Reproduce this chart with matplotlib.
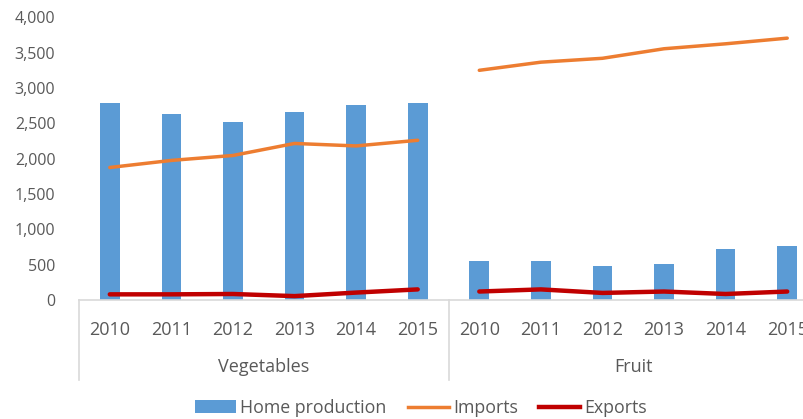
import matplotlib.pyplot as plt
from matplotlib.lines import Line2D
from matplotlib.patches import Patch

years = ['2010', '2011', '2012', '2013', '2014', '2015']
groups = ['Vegetables', 'Fruit']

home_veg = [2790, 2635, 2520, 2655, 2760, 2790]
home_fruit = [550, 550, 485, 505, 725, 770]
imports_veg = [1875, 1975, 2045, 2215, 2180, 2260]
imports_fruit = [3250, 3365, 3420, 3555, 3625, 3705]
exports_veg = [80, 80, 85, 55, 105, 150]
exports_fruit = [120, 150, 100, 120, 85, 120]

BLUE = '#5B9BD5'
ORANGE = '#ED7D31'
RED = '#C00000'
TXT = '#595959'
AXC = '#D9D9D9'

plt.rcParams['font.family'] = ['Open Sans', 'DejaVu Sans']

fig = plt.figure(figsize=(8.04, 4.19), dpi=100)
ax = fig.add_axes([79 / 804, 1 - 300 / 419, 739 / 804, 282.7 / 419])

n = len(years)
x_veg = list(range(n))
x_fruit = [i + n for i in range(n)]

ax.bar(x_veg, home_veg, width=0.32, color=BLUE)
ax.bar(x_fruit, home_fruit, width=0.32, color=BLUE)
ax.plot(x_veg, imports_veg, color=ORANGE, lw=2.5, solid_capstyle='round')
ax.plot(x_fruit, imports_fruit, color=ORANGE, lw=2.5, solid_capstyle='round')
ax.plot(x_veg, exports_veg, color=RED, lw=3.2, solid_capstyle='round')
ax.plot(x_fruit, exports_fruit, color=RED, lw=3.2, solid_capstyle='round')

ax.set_xlim(-0.5, 2 * n - 0.5)
ax.set_ylim(0, 4000)
ax.set_yticks(range(0, 4001, 500))
ax.set_yticklabels([f'{v:,}' for v in range(0, 4001, 500)])
ax.set_xticks(x_veg + x_fruit)
ax.set_xticklabels(years + years)
ax.tick_params(axis='y', length=0, pad=17, labelsize=11.5, colors=TXT)
ax.tick_params(axis='x', length=0, pad=15, labelsize=13, colors=TXT)

for s in ['top', 'right', 'left']:
    ax.spines[s].set_visible(False)
ax.spines['bottom'].set_color(AXC)
ax.spines['bottom'].set_linewidth(1.2)

# group separators and labels below the axis
tr = ax.get_xaxis_transform()
for xs in [-0.5, n - 0.5]:
    ax.plot([xs, xs], [0, -0.283], transform=tr, color=AXC, lw=1.2, clip_on=False)
for gi, g in enumerate(groups):
    ax.text(gi * n + (n - 1) / 2, -0.237, g, transform=tr, ha='center', va='center',
            fontsize=13, color=TXT)

handles = [
    Patch(facecolor=BLUE),
    Line2D([], [], color=ORANGE, lw=2.5),
    Line2D([], [], color=RED, lw=3.2),
]
fig.legend(handles, ['Home production', 'Imports', 'Exports'], loc='center',
           bbox_to_anchor=(421 / 804, 1 - 408 / 419), ncol=3, frameon=False,
           handlelength=2.3, handleheight=0.75, handletextpad=0.25, columnspacing=1.2,
           fontsize=12.8, labelcolor=TXT)

fig.savefig('out.png', dpi=100)
